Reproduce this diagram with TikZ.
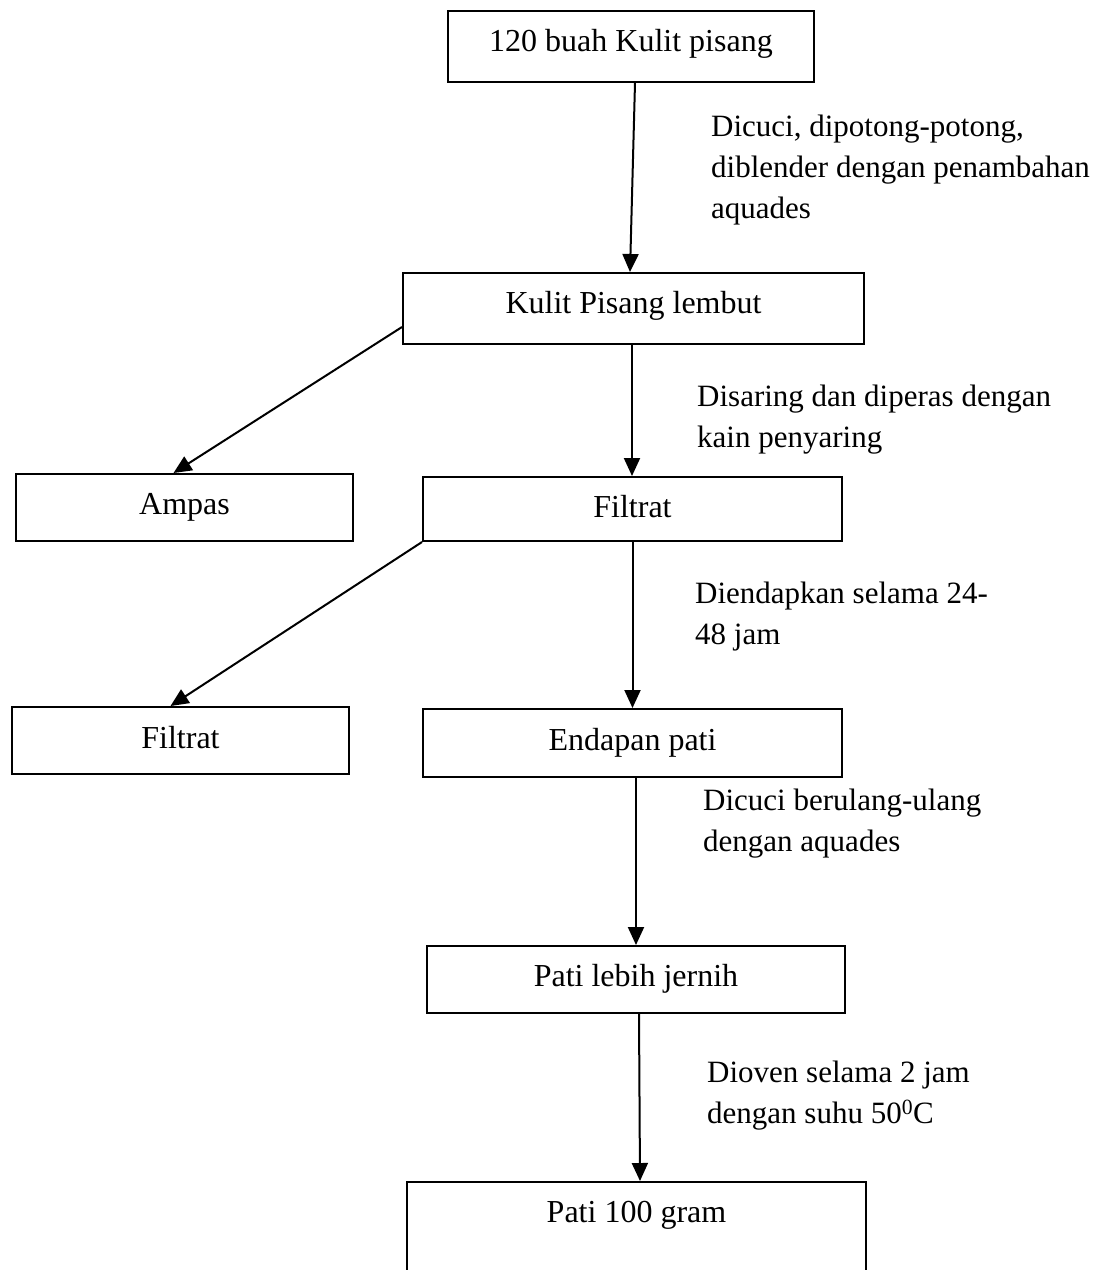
\documentclass[tikz,border=0pt]{standalone}
\usepackage{fontspec}
\setmainfont{Liberation Serif}
\usetikzlibrary{arrows.meta}
\begin{document}
\begin{tikzpicture}[x=1pt,y=-1pt,
  box/.style={draw,line width=2pt,inner sep=0pt,anchor=north,font=\fontsize{32}{40}\selectfont},
  lbl/.style={anchor=north west,inner sep=0pt,align=left,font=\fontsize{31}{41}\selectfont},
  arr/.style={line width=2pt,-{Triangle[length=18pt,width=16pt]}}]
\useasboundingbox (0,0) rectangle (1108,1270);
\clip (0,0) rectangle (1108,1270);
% boxes
\node[box,minimum width=366pt,text height=40pt,text depth=31pt] (b1) at (631,10) {120 buah Kulit pisang};
\node[box,minimum width=461pt,text height=40pt,text depth=31pt] (b2) at (633.5,272) {Kulit Pisang lembut};
\node[box,minimum width=337pt,text height=40pt,text depth=27pt] (amp) at (184.5,473) {Ampas};
\node[box,minimum width=419pt,text height=40pt,text depth=24pt] (f1) at (632.5,476) {Filtrat};
\node[box,minimum width=337pt,text height=41pt,text depth=26pt] (fl) at (180.5,706) {Filtrat};
\node[box,minimum width=419pt,text height=41pt,text depth=27pt] (ed) at (632.5,708) {Endapan pati};
\node[box,minimum width=418pt,text height=40pt,text depth=27pt] (plj) at (636,945) {Pati lebih jernih};
\node[box,minimum width=459pt,text height=40pt,text depth=79pt] (p100) at (636.5,1181) {Pati 100 gram};
% connectors
\draw[arr] ([xshift=4pt]b1.south) -- ([xshift=-3.5pt]b2.north);
\draw[arr] ([xshift=-1.5pt]b2.south) -- ([xshift=-0.5pt]f1.north);
\draw[arr] ([yshift=18pt]b2.south west) -- ([xshift=-11pt]amp.north);
\draw[arr] (f1.south) -- (ed.north);
\draw[arr] (f1.south west) -- ([xshift=-10pt]fl.north);
\draw[arr] ([xshift=3.5pt]ed.south) -- (plj.north);
\draw[arr] ([xshift=3pt]plj.south) -- ([xshift=3.5pt]p100.north);
% labels
\node[lbl] (l1) at (711,115) {Dicuci, dipotong-potong,\\diblender dengan penambahan\\aquades};
\node[lbl] (l2) at (697,385) {Disaring dan diperas dengan\\kain penyaring};
\node[lbl] (l3) at (695,582) {Diendapkan selama 24-\\48 jam};
\node[lbl] (l4) at (703,789) {Dicuci berulang-ulang\\dengan aquades};
\node[lbl] (l5) at (707,1061) {Dioven selama 2 jam\\dengan suhu 50\textsuperscript{0}C};
\end{tikzpicture}
\end{document}
